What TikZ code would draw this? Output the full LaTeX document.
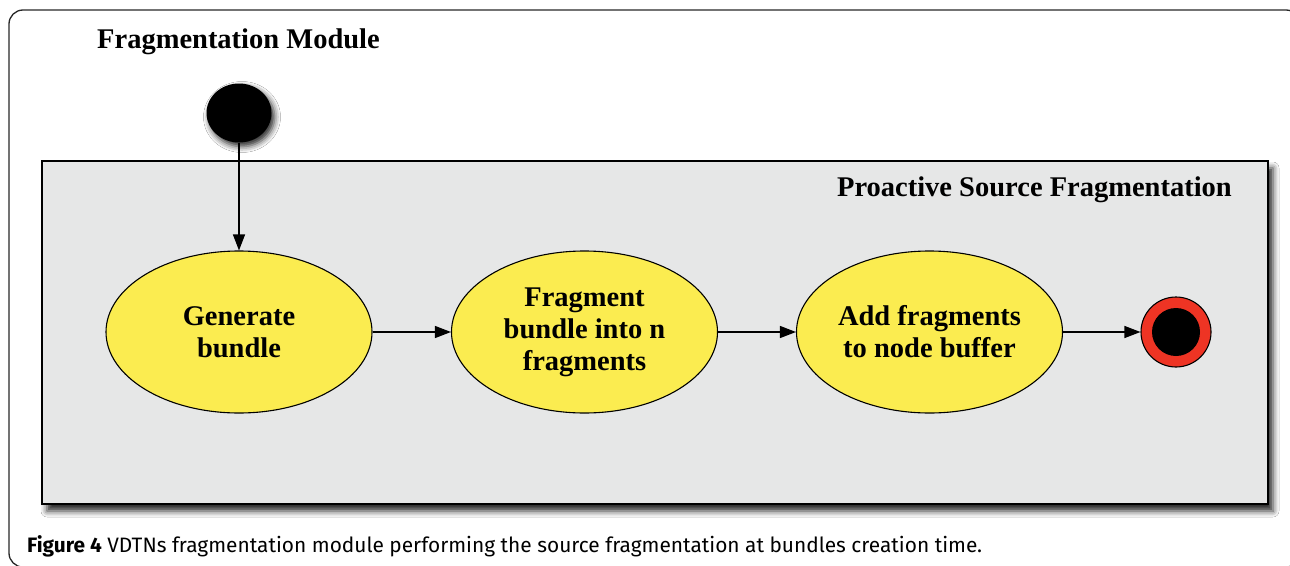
\documentclass[tikz,border=0pt]{standalone}
\usepackage{fontspec}
\setmainfont{Liberation Serif}
\newfontfamily\capfont{Fira Sans}
\usetikzlibrary{shapes.geometric,arrows.meta,shadows.blur}
\definecolor{boxgray}{RGB}{230,231,231}
\definecolor{ellyellow}{RGB}{251,236,80}
\definecolor{endred}{RGB}{238,52,36}
\definecolor{framegray}{RGB}{40,40,40}
\begin{document}
\begin{tikzpicture}[x=1pt,y=-1pt,
  state/.style={ellipse,draw=black,line width=1.1pt,fill=ellyellow,minimum width=266pt,minimum height=162pt,inner sep=0pt,align=center,font=\bfseries\fontsize{28.5}{32}\selectfont},
  flow/.style={line width=1.2pt,-{Triangle[length=16pt,width=12pt]}},
  titletext/.style={font=\bfseries\fontsize{28.5}{32}\selectfont,inner sep=0pt}]
\useasboundingbox (0,0) rectangle (1290,565);
\fill[white] (0,0) rectangle (1290,565);
\draw[framegray,line width=1.3pt,rounded corners=14pt] (9,10) rectangle (1300,567);
\node (title) [titletext,anchor=base west] at (97,48) {Fragmentation Module};
\node (region) [draw=black,line width=1.5pt,fill=boxgray,minimum width=1226pt,minimum height=343pt,inner sep=0pt,
  blur shadow={shadow xshift=5pt,shadow yshift=-7pt,shadow blur radius=6pt,shadow opacity=85}] at (655,332.5) {};
\node (regiontitle) [titletext,anchor=base east] at (1232,196) {Proactive Source Fragmentation};
\node (start) [ellipse,fill=black,minimum width=65pt,minimum height=59pt,inner sep=0pt,
  blur shadow={shadow xshift=3pt,shadow yshift=-4pt,shadow blur radius=6pt,shadow opacity=85}] at (239,113) {};
\node (gen) [state] at (239,332) {Generate\\bundle};
\node (frag) [state] at (584.5,332) {Fragment\\bundle into n\\fragments};
\node (add) [state] at (929.5,332) {Add fragments\\to node buffer};
\node (final) [circle,draw=black,line width=1.1pt,fill=endred,minimum size=70pt,inner sep=0pt] at (1176,332) {};
\node (finalcore) [circle,fill=black,minimum size=48pt,inner sep=0pt] at (final.center) {};
\draw[flow] (start.south) -- (gen.north);
\draw[flow] (gen.east) -- (frag.west);
\draw[flow] (frag.east) -- (add.west);
\draw[flow] (add.east) -- (final.west);
\node (caption) [anchor=base west,inner sep=0pt,font=\capfont\fontsize{19}{23}\selectfont] at (27,552)
  {\resizebox{955pt}{!}{\textbf{Figure 4} VDTNs fragmentation module performing the source fragmentation at bundles creation time.}};
\end{tikzpicture}
\end{document}
